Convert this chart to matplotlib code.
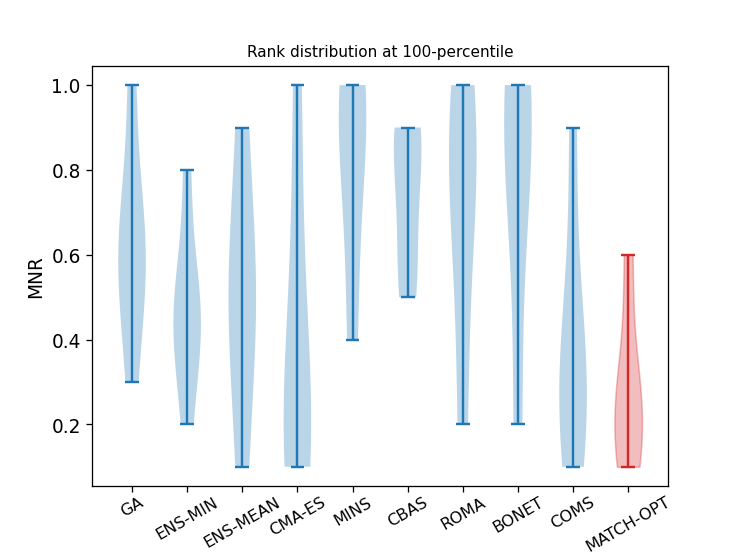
import numpy as np
import matplotlib
matplotlib.use('Agg')
import matplotlib.pyplot as plt

# rangos normalizados por metodo (MNR)
metodos = ['GA', 'ENS-MIN', 'ENS-MEAN', 'CMA-ES', 'MINS', 'CBAS', 'ROMA', 'BONET', 'COMS', 'MATCH-OPT']
ga = [0.3, 0.5, 0.6, 0.6, 0.7, 1.0]
ens_min = [0.2, 0.4, 0.4, 0.5, 0.5, 0.8]
ens_mean = [0.1, 0.4, 0.5, 0.6, 0.9]
cma_es = [0.1, 0.1, 0.2, 0.3, 0.6, 1.0]
mins = [0.4, 0.7, 0.9, 1.0, 1.0]
cbas = [0.5, 0.6, 0.8, 0.9, 0.9]
roma = [0.2, 0.6, 0.8, 0.9, 1.0]
bonet = [0.2, 0.7, 0.9, 1.0, 1.0]
coms = [0.1, 0.2, 0.3, 0.3, 0.5, 0.9]
match_opt = [0.1, 0.2, 0.2, 0.3, 0.6]

datos = [ga, ens_min, ens_mean, cma_es, mins, cbas, roma, bonet, coms, match_opt]

fig, ax = plt.subplots(figsize=(6.4, 4.8), dpi=116)
fig.subplots_adjust(left=0.124, right=0.9, top=0.88, bottom=0.126)

vp = ax.violinplot(datos)
# el ultimo (nuestro metodo) en rojo
vp['bodies'][-1].set_facecolor('#d62728')
vp['bodies'][-1].set_edgecolor('#d62728')
colores = ['#1f77b4'] * (len(datos) - 1) + ['#d62728']
for k in ['cbars', 'cmins', 'cmaxes']:
    vp[k].set_color(colores)

ax.set_xticks(np.arange(1, len(metodos) + 1))
ax.set_xticklabels(metodos, rotation=30, fontsize=10)
ax.tick_params(axis='x', pad=1.5)
ax.tick_params(axis='y', labelsize=11.5)
ax.set_ylabel('MNR', fontsize=11.5)
ax.set_title('Rank distribution at 100-percentile', fontsize=9.5)

plt.savefig('out.png')
